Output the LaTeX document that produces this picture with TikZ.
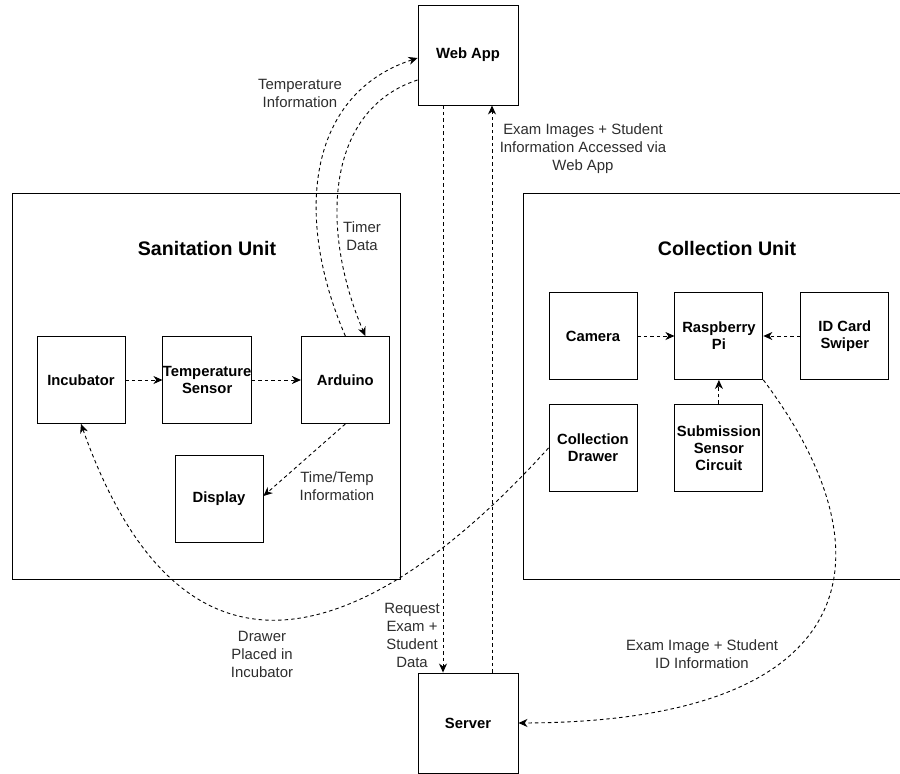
\documentclass[tikz,border=0pt]{standalone}
\usepackage{fontspec}
\setmainfont{Liberation Sans}
\usetikzlibrary{arrows.meta,positioning}
\definecolor{labelgrey}{RGB}{45,45,45}

\begin{document}
\begin{tikzpicture}[x=1pt, y=-1pt,
    block/.style={draw, line width=0.9pt, minimum width=88pt, minimum height=87pt, inner sep=0pt, align=center, font=\fontsize{14.8}{17}\selectfont\bfseries},
    unit/.style={draw, line width=0.9pt, minimum width=388pt, minimum height=386pt},
    title/.style={font=\fontsize{19.6}{22}\selectfont\bfseries},
    link/.style={-{Stealth[length=9pt,width=8pt,inset=2.8pt]}, dash pattern=on 3.5pt off 3pt, line width=0.9pt},
    info/.style={font=\fontsize{14.9}{18}\selectfont, text=labelgrey, align=center}
]
\useasboundingbox (0,0) rectangle (900,774);

% the two units
\node[unit] (san) at (206,386) {};
\node[unit] (col) at (717,386) {};
\node[title] (santitle) at (207,248) {Sanitation Unit};
\node[title] (coltitle) at (727,248) {Collection Unit};

\node[block, minimum size=100pt] (web) at (468,55) {Web App};
\node[block, minimum size=100pt] (server) at (468,723) {Server};

% sanitation unit
\node[block] (incubator) at (81,380) {Incubator};
\node[block, right=37pt of incubator] (tsensor) {Temperature\\Sensor};
\node[block, right=49pt of tsensor] (arduino) {Arduino};
\node[block] (display) at (219,499) {Display};

% collection unit
\node[block] (camera) at (593,336) {Camera};
\node[block, right=37pt of camera] (rpi) {Raspberry\\Pi};
\node[block, right=37pt of rpi] (swiper) {ID Card\\Swiper};
\node[block, below=24pt of camera] (drawer) {Collection\\Drawer};
\node[block, below=24pt of rpi] (circuit) {Submission\\Sensor\\Circuit};

\draw[link] (incubator) -- (tsensor);
\draw[link] (tsensor) -- (arduino);
\draw[link] (arduino.south) -- ([yshift=3pt]display.east);
\draw[link] (camera) -- (rpi);
\draw[link] (swiper) -- (rpi);
\draw[link] (circuit) -- (rpi);

\draw[link] (arduino.north) .. controls (295,220) and (305,95) .. ([yshift=-3pt]web.west);
\draw[link] ([yshift=-25pt]web.west) .. controls (325,110) and (320,230) .. ([xshift=20pt]arduino.north);
\draw[link] (drawer.west) .. controls (420,590) and (200,760) .. (incubator.south);
\draw[link] (rpi.south east) .. controls (895,555) and (865,722) .. (server.east);
\draw[link] ([xshift=-25pt]web.south) -- ([xshift=-25pt]server.north);
\draw[link] ([xshift=24pt]server.north) -- ([xshift=24pt]web.south);

% labels
\node[info] (tempinfo) at (300,93) {Temperature\\Information};
\node[info] (timerinfo) at (362,236) {Timer\\Data};
\node[info] (timetemp) at (337,486) {Time/Temp\\Information};
\node[info] (request) at (412,635) {Request\\Exam +\\Student\\Data};
\node[info] (placed) at (262,654) {Drawer\\Placed in\\Incubator};
\node[info] (examimg) at (702,654) {Exam Image + Student\\ID Information};
\node[info] (accessed) at (583,149) {Exam Images + Student\\Information Accessed via\\Web App};

\end{tikzpicture}
\end{document}
